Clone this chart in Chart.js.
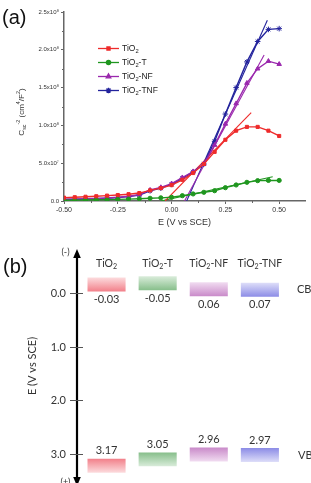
<!DOCTYPE html>
<html><head><meta charset="utf-8">
<script src="https://cdn.jsdelivr.net/npm/chart.js@4.4.1/dist/chart.umd.min.js"></script>
<style>
html,body{margin:0;padding:0;background:#fff}
body{width:311px;height:483px;position:relative;overflow:hidden}
canvas{position:absolute;left:0}
#ca{top:0}
#cb{top:230px}
</style></head><body>
<canvas id="ca" width="311" height="230"></canvas>
<canvas id="cb" width="311" height="253"></canvas>
<script>
// ---------------- panel (a): Mott–Schottky data ----------------
const potentialV = [-0.50,-0.45,-0.40,-0.35,-0.30,-0.25,-0.20,-0.15,-0.10,-0.05,0.00,0.05,0.10,0.15,0.20,0.25,0.30,0.35,0.40,0.45,0.50];
// C_sc^-2 in units of 1e7 cm^4/F^2
const tio2    = [0.44,0.50,0.56,0.63,0.71,0.79,0.90,1.05,1.40,1.70,2.10,2.80,3.70,4.90,6.50,8.10,9.30,9.80,9.80,9.30,8.60];
const tio2T   = [0.10,0.12,0.14,0.16,0.18,0.21,0.25,0.30,0.36,0.42,0.49,0.70,0.93,1.15,1.36,1.76,2.12,2.47,2.69,2.72,2.72];
const tio2NF  = [0.25,0.28,0.31,0.35,0.40,0.49,0.62,0.85,1.45,1.80,2.30,3.10,3.90,4.90,7.40,10.2,12.9,15.6,17.5,18.5,18.1];
const tio2TNF = [0.20,0.22,0.25,0.30,0.36,0.45,0.58,0.80,1.35,1.70,2.20,3.00,3.85,4.90,7.90,11.5,15.0,18.4,21.1,22.7,22.8];
const seriesLabels = ['TiO2','TiO2-T','TiO2-NF','TiO2-TNF'];
// linear fits: x-intercept (V) and end point (V, 1e7 units)
const fitX0 = [-0.03,-0.05,0.06,0.07];
const fitX1 = [0.37,0.47,0.43,0.445];
const fitY1 = [11.7,3.2,19.3,23.9];
const xTickValues = [-0.50,-0.25,0.00,0.25,0.50];
const xMinorValues = [-0.375,-0.125,0.125,0.375,0.625];
const yTickValues = [0,5e7,1e8,1.5e8,2e8,2.5e8];
const yMinorValues = [2.5e7,7.5e7,1.25e8,1.75e8,2.25e8];
const yTickLabels = ['0.0','5.0x10\u2077','1.0x10\u2078','1.5x10\u2078','2.0x10\u2078','2.5x10\u2078'];

// ---------------- panel (b): band edges ----------------
const bandMaterials = ['TiO2','TiO2-T','TiO2-NF','TiO2-TNF'];
const cbEdge = [-0.03,-0.05,0.06,0.07];
const vbEdge = [3.17,3.05,2.96,2.97];
const bandTickValues = [0,1,2,3];

// ---------------- styles ----------------
const UNIT = 1e7;
const lineColors = ['#ee2b2b','#1f961f','#9a28ad','#23239c'];
const pointStyles = ['rect','circle','triangle','star'];
const pointRadii = [2.2,2.1,2.6,2.8];
const bandStrong = ['#f2808a','#86be8a','#c98ac9','#8c8ce6'];
const bandLight  = ['#fcdcde','#d9ecda','#f1dcf1','#dedef9'];
const CB_THICK = 0.26, VB_UP = 0.08, VB_DOWN = 0.18;

Chart.defaults.animation = false;
Chart.defaults.font.family = 'Liberation Sans';

function drawRich(ctx, segs, x, y, size, family, align, color, weight) {
  weight = weight || '';
  const fonts = segs.map(s => weight + ' ' + (s[1] ? (size*0.68).toFixed(1) : size) + 'px ' + family);
  let w = 0; const ws = [];
  segs.forEach((s,i)=>{ ctx.font = fonts[i]; const m = ctx.measureText(s[0]).width; ws.push(m); w += m; });
  let cx = align === 'center' ? x - w/2 : align === 'right' ? x - w : x;
  ctx.fillStyle = color; ctx.textBaseline = 'middle'; ctx.textAlign = 'left';
  segs.forEach((s,i)=>{
    ctx.font = fonts[i];
    const dy = s[1] === 1 ? size*0.3 : s[1] === -1 ? -size*0.38 : 0;
    ctx.fillText(s[0], cx, y + dy); cx += ws[i];
  });
}
function chem(name){ return name.split(/(\d)/).filter(Boolean).map(t => [t, /^\d$/.test(t) ? 1 : 0]); }

// ---------------- chart (a) ----------------
const seriesData = [tio2, tio2T, tio2NF, tio2TNF];
const datasetsA = [];
seriesData.forEach((arr, i) => {
  datasetsA.push({
    label: seriesLabels[i],
    data: potentialV.map((x, k) => ({x, y: arr[k]*UNIT})),
    borderColor: lineColors[i], backgroundColor: lineColors[i],
    borderWidth: 1.4, pointStyle: pointStyles[i], pointRadius: pointRadii[i],
    pointBorderWidth: 1, tension: 0
  });
});
seriesData.forEach((arr, i) => {
  datasetsA.push({
    label: seriesLabels[i] + ' fit',
    data: [{x: fitX0[i], y: 0}, {x: fitX1[i], y: fitY1[i]*UNIT}],
    borderColor: lineColors[i], borderWidth: 1.1, pointRadius: 0, tension: 0
  });
});

const decorA = {
  id: 'decorA',
  afterDraw(chart) {
    const ctx = chart.ctx, xs = chart.scales.x, ys = chart.scales.y, a = chart.chartArea;
    ctx.save();
    ctx.strokeStyle = '#666'; ctx.lineWidth = 1;
    xMinorValues.forEach(v => { const p = Math.round(xs.getPixelForValue(v)) + 0.5; if (p <= a.right) { ctx.beginPath(); ctx.moveTo(p, a.bottom); ctx.lineTo(p, a.bottom + 2); ctx.stroke(); } });
    yMinorValues.forEach(v => { const p = Math.round(ys.getPixelForValue(v)) + 0.5; ctx.beginPath(); ctx.moveTo(a.left - 2, p); ctx.lineTo(a.left, p); ctx.stroke(); });
    ctx.translate(22, 112); ctx.rotate(-Math.PI/2);
    drawRich(ctx, [['C',0],['sc',1],['-2',-1],[' (cm',0],['4',-1],['/F',0],['2',-1],[')',0]], 0, 0, 8, 'Liberation Sans', 'center', '#333');
    ctx.setTransform(1,0,0,1,0,0);
    seriesLabels.forEach((lab, i) => {
      const y = 48.5 + i*14;
      ctx.strokeStyle = lineColors[i]; ctx.fillStyle = lineColors[i]; ctx.lineWidth = 1.3;
      ctx.beginPath(); ctx.moveTo(98, y); ctx.lineTo(119, y); ctx.stroke();
      Chart.helpers.drawPoint(ctx, {pointStyle: pointStyles[i], radius: pointRadii[i], borderWidth: 1, rotation: 0}, 108.5, y);
      drawRich(ctx, chem(lab), 122, y, 8.5, 'Liberation Sans', 'left', '#222');
    });
    ctx.fillStyle = '#111'; ctx.font = '20px Liberation Sans'; ctx.textBaseline = 'middle'; ctx.textAlign = 'left';
    ctx.fillText('(a)', 2, 18);
    ctx.restore();
  }
};

new Chart(document.getElementById('ca'), {
  type: 'line',
  data: { datasets: datasetsA },
  options: {
    responsive: false,
    layout: { padding: { top: 12, right: 6, left: 0, bottom: 0 } },
    plugins: { legend: { display: false }, tooltip: { enabled: false } },
    scales: {
      x: {
        type: 'linear', min: -0.5, max: 0.62,
        afterBuildTicks: s => { s.ticks = xTickValues.map(v => ({value: v})); },
        afterFit: s => { s.height = 29; },
        ticks: { font: { size: 7 }, color: '#333', padding: 2, maxRotation: 0, callback: v => v.toFixed(2) },
        grid: { drawOnChartArea: false, tickLength: 3, color: '#666', lineWidth: 1 },
        border: { color: '#666', width: 1.5 },
        title: { display: true, text: 'E (V vs SCE)', font: { size: 9 }, color: '#333', padding: { top: 0, bottom: 2 } }
      },
      y: {
        type: 'linear', min: 0, max: 2.5e8,
        afterBuildTicks: s => { s.ticks = yTickValues.map(v => ({value: v})); },
        afterFit: s => { s.width = 64; },
        ticks: { font: { size: 6 }, color: '#333', padding: 2, callback: (v, i) => yTickLabels[i] },
        grid: { drawOnChartArea: false, tickLength: 3, color: '#666', lineWidth: 1 },
        border: { color: '#666', width: 1.5 }
      }
    }
  },
  plugins: [decorA]
});

// ---------------- chart (b) ----------------
function bandFill(c, kind) {
  const i = c.dataIndex;
  const chart = c.chart;
  if (c.type !== 'data' || !chart.scales.y || !c.raw) return bandStrong[i] || '#ccc';
  const ys = chart.scales.y;
  const p0 = ys.getPixelForValue(c.raw.y[0]), p1 = ys.getPixelForValue(c.raw.y[1]);
  if (!isFinite(p0) || !isFinite(p1)) return bandStrong[i];
  const g = chart.ctx.createLinearGradient(0, p0, 0, p1);
  if (kind === 'cb') { g.addColorStop(0, bandLight[i]); g.addColorStop(1, bandStrong[i]); }
  else { g.addColorStop(0, bandStrong[i]); g.addColorStop(1, bandLight[i]); }
  return g;
}

const decorB = {
  id: 'decorB',
  afterDraw(chart) {
    const ctx = chart.ctx, xs = chart.scales.x, ys = chart.scales.y, a = chart.chartArea;
    const F = 'Lato';
    ctx.save();
    const ax = a.left;
    ctx.strokeStyle = '#000'; ctx.fillStyle = '#000'; ctx.lineWidth = 2.2;
    ctx.beginPath(); ctx.moveTo(ax, a.top + 6); ctx.lineTo(ax, chart.height); ctx.stroke();
    ctx.beginPath(); ctx.moveTo(ax, a.top); ctx.lineTo(ax - 3.8, a.top + 9); ctx.lineTo(ax + 3.8, a.top + 9); ctx.closePath(); ctx.fill();
    ctx.beginPath(); ctx.moveTo(ax, chart.height + 3); ctx.lineTo(ax - 3.8, chart.height - 6); ctx.lineTo(ax + 3.8, chart.height - 6); ctx.closePath(); ctx.fill();
    ctx.strokeStyle = '#555'; ctx.lineWidth = 1;
    ctx.font = '11px ' + F; ctx.fillStyle = '#333'; ctx.textAlign = 'right'; ctx.textBaseline = 'middle';
    bandTickValues.forEach(v => {
      const p = Math.round(ys.getPixelForValue(v)) + 0.5;
      ctx.beginPath(); ctx.moveTo(ax - 7, p); ctx.lineTo(ax + 6, p); ctx.stroke();
      ctx.fillText(v.toFixed(1), ax - 11, p);
    });
    ctx.font = '9px ' + F; ctx.textAlign = 'center';
    ctx.fillText('(-)', 65.5, 22.5);
    ctx.fillText('(+)', 65.5, 252);
    bandMaterials.forEach((m, i) => {
      const x = xs.getPixelForValue(i);
      drawRich(ctx, chem(m), x, 34, 10.5, F, 'center', '#333');
      ctx.font = '11px ' + F; ctx.fillStyle = '#333'; ctx.textAlign = 'center'; ctx.textBaseline = 'middle';
      ctx.fillText(cbEdge[i].toFixed(2), x, ys.getPixelForValue(cbEdge[i]) + 8);
      ctx.fillText(vbEdge[i].toFixed(2), x, ys.getPixelForValue(vbEdge[i] - VB_UP) - 8);
    });
    const meanCB = cbEdge.reduce((s, v) => s + v, 0) / cbEdge.length;
    const meanVB = vbEdge.reduce((s, v) => s + v, 0) / vbEdge.length;
    ctx.textAlign = 'left'; ctx.font = '11px ' + F;
    ctx.fillText('CB', 297, ys.getPixelForValue(meanCB - 0.07));
    ctx.fillText('VB', 298, ys.getPixelForValue(meanVB - 0.02));
    ctx.fillStyle = '#111'; ctx.font = '20px Liberation Sans'; ctx.textAlign = 'left';
    ctx.fillText('(b)', 3, 37.5);
    ctx.restore();
  }
};

new Chart(document.getElementById('cb'), {
  type: 'bar',
  data: {
    datasets: [
      { label: 'CB', data: cbEdge.map((v, i) => ({x: i, y: [v - CB_THICK, v]})), backgroundColor: c => bandFill(c, 'cb'), borderWidth: 0 },
      { label: 'VB', data: vbEdge.map((v, i) => ({x: i, y: [v - VB_UP, v + VB_DOWN]})), backgroundColor: c => bandFill(c, 'vb'), borderWidth: 0 }
    ]
  },
  options: {
    responsive: false,
    layout: { padding: { top: 19, right: 0, left: 0, bottom: 0 } },
    datasets: { bar: { grouped: false, barPercentage: 0.745, categoryPercentage: 1 } },
    plugins: { legend: { display: false }, tooltip: { enabled: false } },
    scales: {
      x: { type: 'linear', min: -0.578, max: 4.0, offset: false, display: false },
      y: {
        type: 'linear', reverse: true, min: -0.82, max: 3.54,
        afterBuildTicks: s => { s.ticks = bandTickValues.map(v => ({value: v})); },
        afterFit: s => { s.width = 77; },
        ticks: { display: false },
        grid: { display: false, drawTicks: false },
        border: { display: false },
        title: { display: true, text: 'E (V vs SCE)', font: { family: 'Lato', size: 11 }, color: '#333', padding: { top: 26, bottom: 0 } }
      }
    }
  },
  plugins: [decorB]
});
</script>
</body></html>
